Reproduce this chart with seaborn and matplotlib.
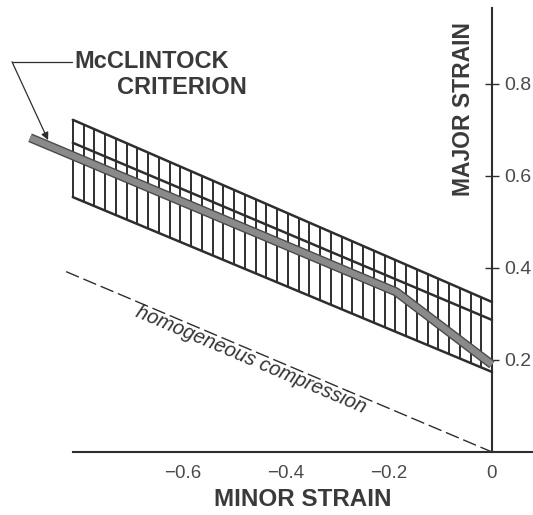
import numpy as np
import pandas as pd
import matplotlib
matplotlib.use("Agg")
import matplotlib.pyplot as plt
import matplotlib.patheffects as pe
import seaborn as sns

# ---------------- data ----------------
band_x = [-0.814, 0.0]
band_upper = [0.722, 0.326]
band_middle = [0.672, 0.287]
band_lower = [0.554, 0.174]
n_hatch = 40

mcc_x = [-0.897, -0.186, 0.0]
mcc_y = [0.683, 0.348, 0.190]

homog_x = [-0.827, 0.0]
homog_y = [0.392, 0.0]

x_ticks = [-0.6, -0.4, -0.2, 0.0]
x_tick_labels = ["\u22120.6", "\u22120.4", "\u22120.2", "0"]
y_ticks = [0.2, 0.4, 0.6, 0.8]
y_tick_labels = ["0.2", "0.4", "0.6", "0.8"]

# ---------------- style ----------------
sns.set_theme(style="white")
plt.rcParams["font.family"] = ["Liberation Sans", "DejaVu Sans"]

ink = "#2e2e2e"
fig = plt.figure(figsize=(5.33, 5.15), dpi=100)
ax = fig.add_axes([0.0, 63 / 515, 1.0, 444 / 515])
ax.set_xlim(-492 / 515, 41 / 515)
ax.set_ylim(0, 0.965)
ax.set_facecolor("white")

# band boundaries
band = pd.DataFrame({"x": band_x, "upper": band_upper,
                     "middle": band_middle, "lower": band_lower})
for col in ["upper", "middle", "lower"]:
    sns.lineplot(data=band, x="x", y=col, ax=ax, color=ink, linewidth=1.8)

# vertical hatching of the band
hx = np.linspace(band_x[0], band_x[-1], n_hatch)
ax.vlines(hx, np.interp(hx, band_x, band_lower), np.interp(hx, band_x, band_upper),
          color=ink, linewidth=1.4)

# homogeneous compression (dashed)
sns.lineplot(x=homog_x, y=homog_y, ax=ax, color=ink, linewidth=1.0,
             linestyle=(0, (10, 3.5)))

# McClintock criterion (thick grey tube)
sns.lineplot(x=mcc_x, y=mcc_y, ax=ax, sort=False, color="#8a8a8a", linewidth=4.6,
             solid_capstyle="butt", solid_joinstyle="round",
             path_effects=[pe.Stroke(linewidth=6.6, foreground="#4a4a4a"), pe.Normal()],
             clip_on=False, zorder=5)

# ---------------- axes ----------------
for s in ["top", "left"]:
    ax.spines[s].set_visible(False)
ax.spines["right"].set_position(("data", 0))
ax.spines["right"].set_bounds(0, 0.965)
ax.spines["bottom"].set_position(("data", 0))
ax.spines["bottom"].set_bounds(-0.814, 41 / 515)
for s in ["right", "bottom"]:
    ax.spines[s].set_color(ink)
    ax.spines[s].set_linewidth(1.5)

ax.yaxis.set_ticks_position("right")
ax.set_yticks(y_ticks)
ax.set_yticklabels(y_tick_labels)
ax.set_xticks(x_ticks)
ax.set_xticklabels(x_tick_labels)
ax.tick_params(axis="y", direction="inout", length=10, width=1.0, color=ink,
               pad=4, labelsize=14, labelcolor="#4a4a4a")
ax.tick_params(axis="x", direction="in", length=3.5, width=1.0, color=ink,
               pad=9, labelsize=13.5, labelcolor="#4a4a4a")
ax.set_xlabel("")
ax.set_ylabel("")

# ---------------- texts ----------------
ax.text(-0.81, 0.848, "McCLINTOCK", ha="left", va="center", fontsize=17,
        fontweight="bold", color="#3a3a3a")
ax.text(-0.728, 0.793, "CRITERION", ha="left", va="center", fontsize=17,
        fontweight="bold", color="#3a3a3a")

ax.text(-0.056, 0.746, "MAJOR STRAIN", rotation=90, ha="center", va="center",
        fontsize=16.5, fontweight="bold", color="#3a3a3a")
ax.text(-0.367, -0.104, "MINOR STRAIN", ha="center", va="center",
        fontsize=17.5, fontweight="bold", color="#3a3a3a", clip_on=False)

ax.text(-0.468, 0.200, "homogeneous compression", rotation=-23,
        rotation_mode="anchor", ha="center", va="center", fontsize=14.5,
        style="italic", color="#333333")

# leader line and arrow for the label
ax.plot([-0.816, -0.932], [0.848, 0.848], color=ink, linewidth=0.9)
ax.annotate("", xy=(-0.862, 0.678), xytext=(-0.932, 0.848),
            arrowprops=dict(arrowstyle="-|>", color=ink, lw=0.9,
                            shrinkA=0, shrinkB=0, mutation_scale=11))

fig.savefig("out.png", dpi=100)
